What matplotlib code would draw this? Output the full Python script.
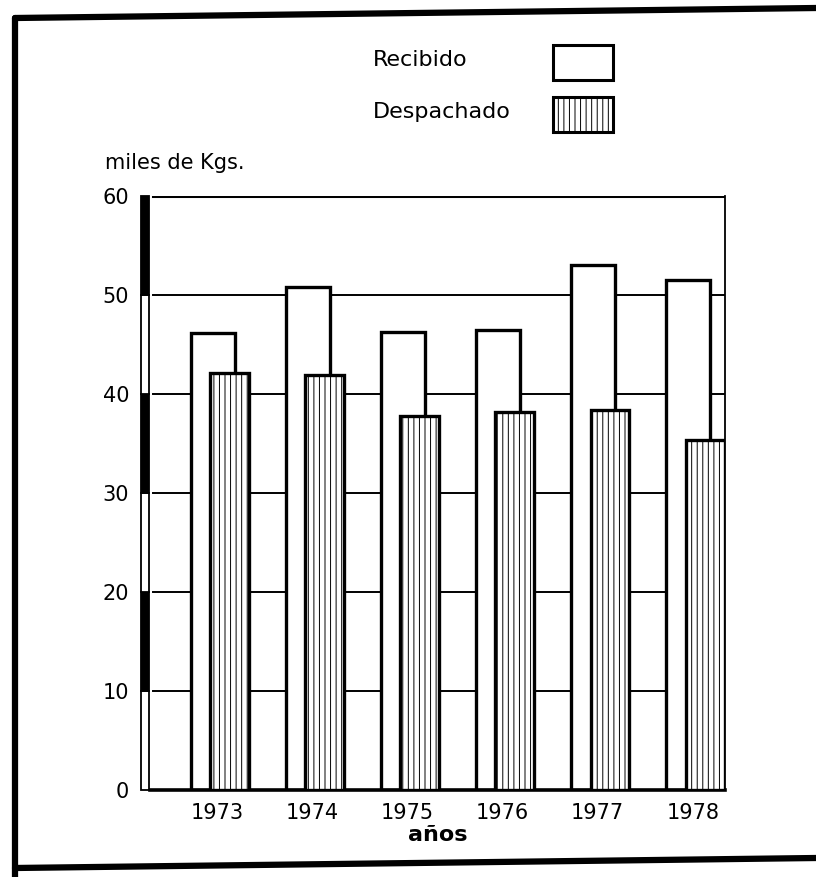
import numpy as np
import matplotlib
matplotlib.use("Agg")
import matplotlib.pyplot as plt
from matplotlib.patches import Rectangle
from matplotlib.lines import Line2D

# datos en miles de Kgs.
anios = ["1973", "1974", "1975", "1976", "1977", "1978"]
recibido = [46.2, 50.8, 46.3, 46.5, 53.0, 51.5]
despachado = [42.1, 41.9, 37.8, 38.2, 38.4, 35.4]
yticks = [0, 10, 20, 30, 40, 50, 60]

plt.rcParams['font.family'] = ['DejaVu Sans']
plt.rcParams['hatch.linewidth'] = 0.7

fig = plt.figure(figsize=(8.16, 8.77), dpi=100)
ax = fig.add_axes([0.1838, 0.0992, 0.7047, 0.6773])

x = np.arange(len(anios))
off = 0.18  # desplazamiento de la barra despachado

# rejilla horizontal detras de las barras (con un pequeño hueco junto a la escala)
for v in yticks[1:-1]:
    ax.axhline(v, xmin=0.006, color='black', lw=1.4, zorder=1)
ax.axhline(60, xmin=0.006, color='black', lw=2.2, zorder=1)

ax.bar(x, recibido, width=0.46, color='white', edgecolor='black',
       linewidth=2.4, zorder=2)
ax.bar(x + off, despachado, width=0.41, color='white', edgecolor='black',
       linewidth=2.4, hatch='|||', zorder=3)

ax.set_xlim(-0.66, 5.39)
ax.set_ylim(0, 60)

for s in ['top', 'left']:
    ax.spines[s].set_visible(False)
ax.spines['right'].set_linewidth(1.3)
ax.spines['bottom'].set_linewidth(2.6)

# escala alternada blanco / negro en el eje vertical
tr = ax.get_yaxis_transform()
for i in range(6):
    fc = 'black' if i % 2 == 1 else 'white'
    ax.add_patch(Rectangle((-0.0157, i * 10), 0.0135, 10, transform=tr,
                           facecolor=fc, edgecolor='black', lw=1.3,
                           clip_on=False, zorder=4))

ax.set_yticks(yticks)
ax.set_yticklabels([str(v) for v in yticks])
ax.tick_params(axis='y', length=0, pad=15, labelsize=15)
ax.set_xticks(x + 0.05)
ax.set_xticklabels(anios)
ax.tick_params(axis='x', length=0, pad=9, labelsize=15)
ax.set_xlabel("años", fontsize=16, fontweight='bold', labelpad=2)

fig.text(105 / 816, 1 - 163 / 877, "miles de Kgs.", fontsize=15,
         ha='left', va='center')

# leyenda dibujada a mano
fig.text(373 / 816, 1 - 60 / 877, "Recibido", fontsize=16,
         ha='left', va='center')
fig.text(373 / 816, 1 - 112 / 877, "Despachado", fontsize=16,
         ha='left', va='center')
fig.add_artist(Rectangle((553 / 816, 1 - 80 / 877), 60 / 816, 35 / 877,
                         transform=fig.transFigure, facecolor='white',
                         edgecolor='black', lw=2.2))
fig.add_artist(Rectangle((553 / 816, 1 - 132 / 877), 60 / 816, 35 / 877,
                         transform=fig.transFigure, facecolor='white',
                         edgecolor='black', lw=2.2, hatch='|||'))

# marco de la hoja
for xs, ys in [([15 / 816, 1.0], [1 - 18 / 877, 1 - 8 / 877]),
               ([15 / 816, 15 / 816], [1 - 18 / 877, 0.0]),
               ([15 / 816, 1.0], [1 - 868 / 877, 1 - 858 / 877])]:
    fig.add_artist(Line2D(xs, ys, transform=fig.transFigure,
                          color='black', lw=4.5, solid_capstyle='round'))

fig.savefig("out.png", dpi=100)
